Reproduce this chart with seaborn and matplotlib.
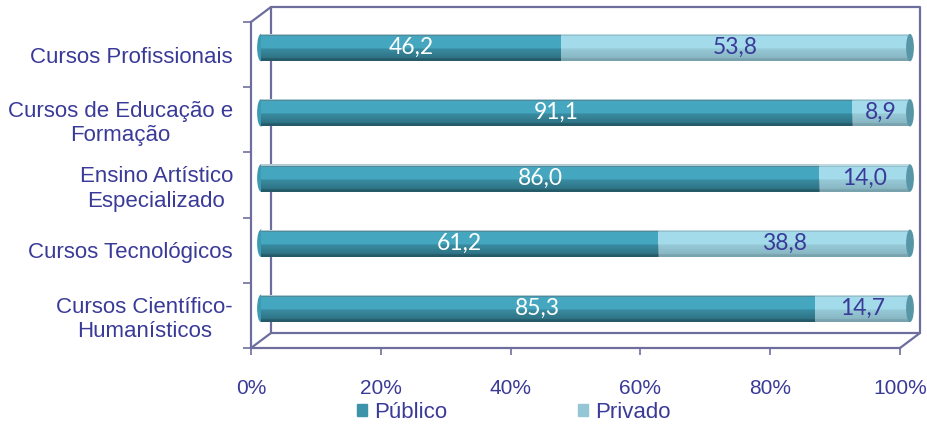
import numpy as np
import pandas as pd
import matplotlib
matplotlib.use("Agg")
import matplotlib.pyplot as plt
from matplotlib.transforms import ScaledTranslation
from matplotlib.patches import Ellipse
from matplotlib.lines import Line2D
import seaborn as sns

# --- data -------------------------------------------------------------
categories = [
    "Cursos Profissionais",
    "Cursos de Educação e\nFormação",
    "Ensino Artístico\nEspecializado",
    "Cursos Tecnológicos",
    "Cursos Científico-\nHumanísticos",
]
publico = [46.2, 91.1, 86.0, 61.2, 85.3]
privado = [53.8, 8.9, 14.0, 38.8, 14.7]
x_ticks = [0, 20, 40, 60, 80, 100]
x_tick_labels = ["0%", "20%", "40%", "60%", "80%", "100%"]
series_names = ["Público", "Privado"]

# --- style -------------------------------------------------------------
sns.set_theme(style="white")
plt.rcParams["font.family"] = ["Liberation Sans", "DejaVu Sans"]

TEXT = "#3a3a98"
AXIS = "#6e6e9e"
C_PUB = "#44a6bf"
C_PRI = "#a3dbea"
C_PUB_LEG = "#3d93aa"
C_PRI_LEG = "#94c6d6"

df = pd.DataFrame({"curso": categories, "Público": publico, "Privado": privado})
df["total"] = df["Público"] + df["Privado"]

fig = plt.figure(figsize=(9.28, 4.28), dpi=100)
ax = fig.add_axes([251 / 928, 80 / 428, 649 / 928, 326 / 428])

BAR_W = 0.42
sns.barplot(data=df, x="total", y="curso", color=C_PRI, width=BAR_W,
            saturation=1, ax=ax, orient="h")
sns.barplot(data=df, x="Público", y="curso", color=C_PUB, width=BAR_W,
            saturation=1, ax=ax, orient="h")

ax.set_xlim(0, 100)
ax.set_ylim(len(categories) - 0.5, -0.5)

# bars sit half way into the depth of the box
depth_off = ScaledTranslation(0.10, 0.07, fig.dpi_scale_trans)
bar_tr = ax.transData + depth_off

bars = list(ax.patches)
for p in bars:
    p.set_transform(bar_tr)
    p.set_edgecolor("none")
    p.set_zorder(3)
    p.set_clip_on(False)

# cylinder shading: pale rim on top, gently darker lower part, dark bottom edge
n = 80
t = np.linspace(0, 1, n)
shade = np.zeros((n, 1, 4))
top_rim = t < 0.08
shade[top_rim, 0, 0:3] = 0.85
shade[top_rim, 0, 3] = 0.5
mid = (t >= 0.55) & (t < 0.9)
shade[mid, 0, 3] = 0.08 + (t[mid] - 0.55) * 0.25
bot = t >= 0.9
shade[bot, 0, 3] = 0.26
for p in bars:
    x0, y0 = p.get_x(), p.get_y()
    w, h = p.get_width(), p.get_height()
    im = ax.imshow(shade, extent=(x0, x0 + w, y0 + h, y0), aspect="auto",
                   transform=bar_tr, zorder=4, interpolation="bilinear")
    im.set_clip_box(None)
    im.set_clip_path(p)

# round caps at both ends of each cylinder
cap_w = 1.2
for i in range(len(categories)):
    left = Ellipse((0, i), cap_w, BAR_W, facecolor="#3c9ab3", edgecolor="none",
                   transform=bar_tr, zorder=2, clip_on=False)
    right = Ellipse((df["total"][i], i), cap_w, BAR_W, facecolor="#5796a6",
                    edgecolor="none", transform=bar_tr, zorder=5, clip_on=False)
    ax.add_patch(left)
    ax.add_patch(right)

ax.set_xlim(0, 100)
ax.set_ylim(len(categories) - 0.5, -0.5)

# value labels
for i in range(len(categories)):
    pv, rv = publico[i], privado[i]
    ax.text(pv / 2, i, f"{pv:.1f}".replace(".", ","), transform=bar_tr,
            ha="center", va="center", color="white", fontsize=16.5,
            family=["Lato", "DejaVu Sans"], zorder=6)
    ax.text(pv + rv / 2, i, f"{rv:.1f}".replace(".", ","), transform=bar_tr,
            ha="center", va="center", color=TEXT, fontsize=16.5,
            family=["Lato", "DejaVu Sans"], zorder=6)

# box: front axes plus back wall pushed into depth
for s in ["top", "right"]:
    ax.spines[s].set_visible(False)
for s in ["left", "bottom"]:
    ax.spines[s].set_color(AXIS)
    ax.spines[s].set_linewidth(1.6)

back_off = ScaledTranslation(0.20, 0.15, fig.dpi_scale_trans)
back_tr = ax.transAxes + back_off
ax.add_line(Line2D([0, 0, 1, 1, 0], [0, 1, 1, 0, 0], transform=back_tr,
                   color=AXIS, lw=1.6, clip_on=False, zorder=1))
for xa, ya in [(0, 0), (1, 0), (0, 1)]:
    ax.add_line(Line2D([xa, xa + 0.20 * 100 / 649], [ya, ya + 0.15 * 100 / 326],
                       transform=ax.transAxes, color=AXIS, lw=1.6,
                       clip_on=False, zorder=1))

# ticks
ax.set_xticks(x_ticks)
ax.set_xticklabels(x_tick_labels)
ax.tick_params(axis="x", length=5, width=1.2, color=AXIS, pad=17,
               labelsize=15, labelcolor=TEXT, bottom=True)
ax.set_yticks(range(len(categories)))
ax.set_yticklabels(categories, multialignment="center")
ax.set_yticks(np.arange(-0.5, len(categories)), minor=True)
ax.tick_params(axis="y", which="major", length=0, pad=13, labelsize=16,
               labelcolor=TEXT)
ax.tick_params(axis="y", which="minor", length=6, width=1.2, color=AXIS,
               left=True)
ax.set_xlabel("")
ax.set_ylabel("")

# legend
handles = [plt.Rectangle((0, 0), 1, 1, color=C_PUB_LEG),
           plt.Rectangle((0, 0), 1, 1, color=C_PRI_LEG)]
fig.legend(handles, series_names, loc="center", ncol=2,
           bbox_to_anchor=(514 / 928, 1 - 412 / 428), frameon=False,
           fontsize=16, labelcolor=TEXT, handlelength=0.45, handleheight=0.45,
           handletextpad=0.3, columnspacing=5.9, borderpad=0)

fig.savefig("out.png", dpi=100, facecolor="white")
